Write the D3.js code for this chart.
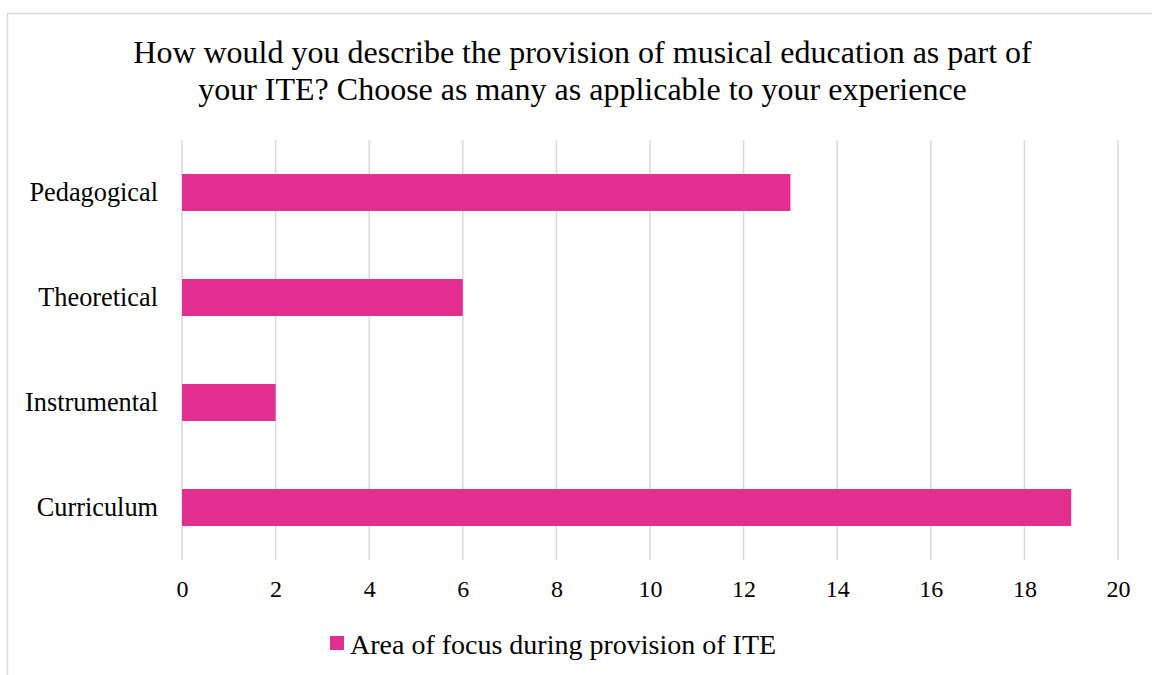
<!DOCTYPE html>
<html>
<head>
    <meta charset="utf-8">
    <style>
        body { margin: 0; background: #ffffff; }
        svg { display: block; }
        text { font-family: "Liberation Serif", "Times New Roman", serif; fill: #000; }
    </style>
    <script src="https://d3js.org/d3.v7.min.js"></script>
</head>
<body>
<script>
  // data
  var categories = ["Pedagogical", "Theoretical", "Instrumental", "Curriculum"];
  var values = [13, 6, 2, 19];
  var xTicks = [0, 2, 4, 6, 8, 10, 12, 14, 16, 18, 20];
  var titleLines = ["How would you describe the provision of musical education as part of",
                    "your ITE? Choose as many as applicable to your experience"];
  var seriesName = "Area of focus during provision of ITE";

  var W = 1152, H = 675;
  var barColor = "#e22f8f";
  var gridColor = "#d9d9d9";
  var plot = {left: 182, right: 1118, top: 140, bottom: 560};

  var svg = d3.select("body").append("svg")
              .attr("width", W)
              .attr("height", H);

  // chart border (runs off the right and bottom of the picture)
  svg.append("rect")
     .attr("x", 7.5).attr("y", 13.5)
     .attr("width", 1160).attr("height", 700)
     .attr("fill", "none")
     .attr("stroke", gridColor)
     .attr("stroke-width", 1.5);

  // title
  svg.append("g").selectAll("text")
     .data(titleLines)
     .enter().append("text")
     .attr("x", 582.5)
     .attr("y", function (d, i) { return 63 + i * 37; })
     .attr("text-anchor", "middle")
     .style("font-size", "32px")
     .text(function (d) { return d; });

  var x = d3.scaleLinear()
            .domain([0, 20])
            .range([plot.left, plot.right]);

  var y = d3.scaleBand()
            .domain(categories)
            .range([plot.top, plot.bottom])
            .paddingInner(0.648)
            .paddingOuter(0.324);

  // vertical gridlines
  svg.append("g").selectAll("line")
     .data(xTicks)
     .enter().append("line")
     .attr("x1", function (d) { return x(d); })
     .attr("x2", function (d) { return x(d); })
     .attr("y1", plot.top)
     .attr("y2", plot.bottom)
     .attr("stroke", gridColor)
     .attr("stroke-width", 1.5);

  // bars
  svg.append("g").selectAll("rect")
     .data(values)
     .enter().append("rect")
     .attr("x", x(0))
     .attr("y", function (d, i) { return y(categories[i]); })
     .attr("width", function (d) { return x(d) - x(0); })
     .attr("height", y.bandwidth())
     .attr("fill", barColor);

  // x axis labels
  var xAxis = d3.axisBottom(x).tickValues(xTicks).tickSize(0).tickPadding(0);
  var gx = svg.append("g")
              .attr("transform", "translate(0," + 597 + ")")
              .call(xAxis);
  gx.select(".domain").remove();
  gx.selectAll("text")
    .attr("dy", 0).attr("y", 0)
    .style("font-family", "'Liberation Serif', 'Times New Roman', serif")
    .style("font-size", "24px");

  // category labels
  var yAxis = d3.axisLeft(y).tickSize(0).tickPadding(0);
  var gy = svg.append("g")
              .attr("transform", "translate(" + 158 + ",0)")
              .call(yAxis);
  gy.select(".domain").remove();
  gy.selectAll("text")
    .attr("dy", "0.33em")
    .style("font-family", "'Liberation Serif', 'Times New Roman', serif")
    .style("font-size", "26.3px");

  // legend
  var legend = svg.append("g");
  legend.append("rect")
        .attr("x", 330).attr("y", 636)
        .attr("width", 14).attr("height", 14)
        .attr("fill", barColor);
  legend.append("text")
        .attr("x", 350).attr("y", 654)
        .style("font-size", "28px")
        .text(seriesName);
</script>
</body>
</html>
